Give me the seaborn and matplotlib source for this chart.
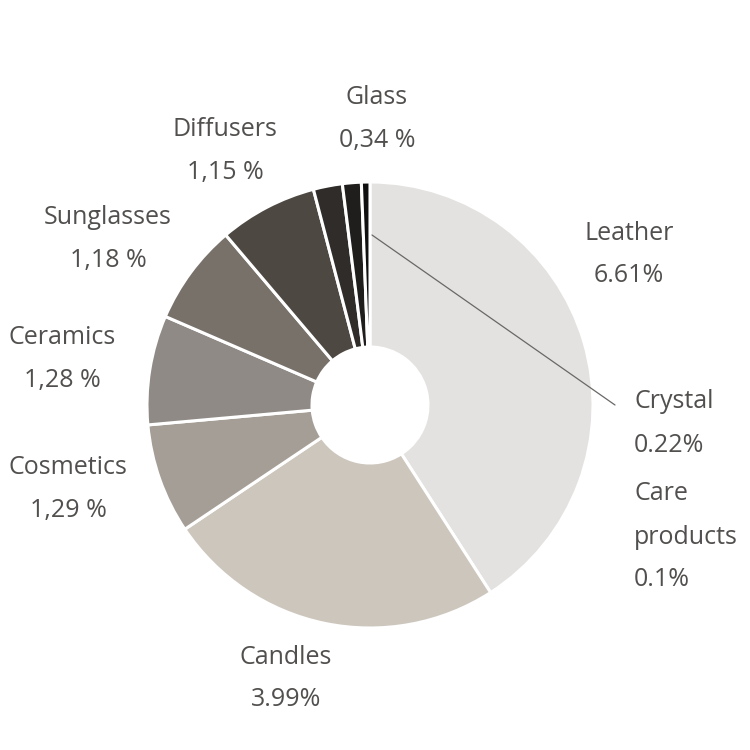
import matplotlib.pyplot as plt
import seaborn as sns

# Share of sales by category (clockwise from the top)
categories = ['Leather', 'Candles', 'Cosmetics', 'Ceramics', 'Sunglasses',
              'Diffusers', 'Glass', 'Crystal', 'Care products']
values = [6.61, 3.99, 1.29, 1.28, 1.18, 1.15, 0.34, 0.22, 0.1]
value_labels = ['6.61%', '3.99%', '1,29 %', '1,28 %', '1,18 %',
                '1,15 %', '0,34 %', '0.22%', '0.1%']
colors = ['#e3e2e0', '#cdc6bd', '#a59e96', '#8f8a85', '#77716a',
          '#4e4843', '#2f2c29', '#201e1c', '#111010']

sns.set_theme(style='white')
plt.rcParams['font.family'] = ['Open Sans', 'DejaVu Sans']

fig = plt.figure(figsize=(7.5, 7.5), dpi=100)
ax = fig.add_axes([0, 0, 1, 1])

cx, cy, r = 370, 345, 223
ax.pie(values, colors=colors, startangle=90, counterclock=False,
       center=(cx, cy), radius=r,
       wedgeprops=dict(width=r - 58, edgecolor='white', linewidth=2.2))

# pie resets the limits, so set the pixel-like frame afterwards
ax.set_xlim(0, 750)
ax.set_ylim(0, 750)
ax.set_aspect('equal')
ax.axis('off')

txt = '#52504e'
fs = 18
# label positions in pixel space (x, y from top), alignment
label_pos = {
    'Leather': (629, 233, 'center'),
    'Candles': (286, 657, 'center'),
    'Cosmetics': (68, 467, 'center'),
    'Ceramics': (62, 338, 'center'),
    'Sunglasses': (108, 218, 'center'),
    'Diffusers': (225, 130, 'center'),
    'Glass': (377, 98, 'center'),
    'Crystal': (634, 402, 'left'),
    'Care products': (634, 494, 'left'),
}
line_gap = 43
for name, lab in zip(categories, value_labels):
    x, y, ha = label_pos[name]
    lines = name.split(' ') if name == 'Care products' else [name]
    lines = lines + [lab]
    for i, s in enumerate(lines):
        ax.text(x, 750 - (y + i * line_gap), s, ha=ha, va='center',
                fontsize=fs, color=txt)

# leader line for Crystal
ax.plot([372, 615], [750 - 235, 750 - 405], color='#6a6866', lw=0.9)

fig.savefig('out.png', dpi=100)
